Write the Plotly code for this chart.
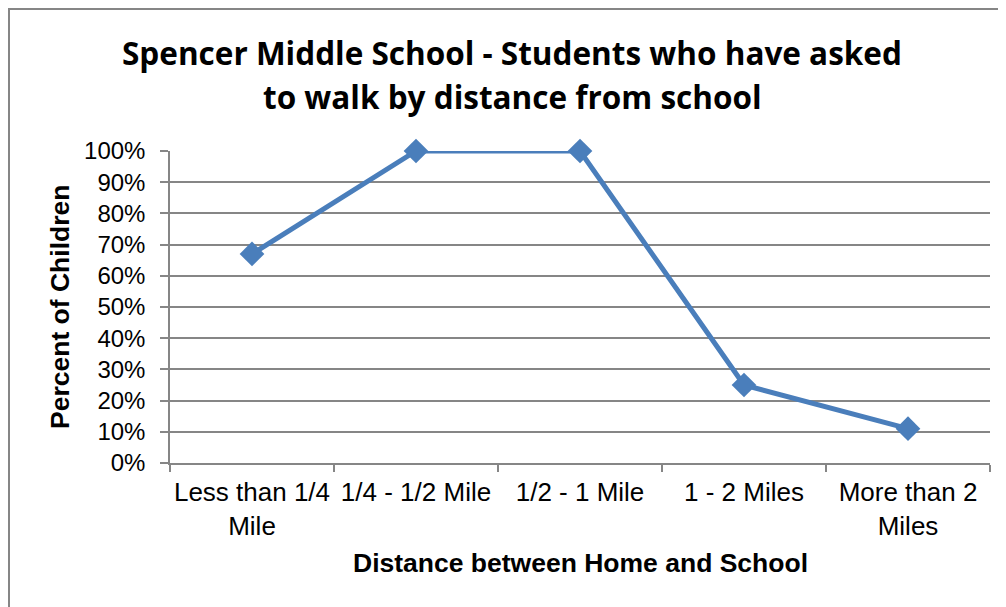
import plotly.graph_objects as go

categories = ["Less than 1/4<br>Mile", "1/4 - 1/2 Mile", "1/2 - 1 Mile", "1 - 2 Miles", "More than 2<br>Miles"]
percent_children = [0.67, 1.00, 1.00, 0.25, 0.11]
y_ticks = [i / 10 for i in range(11)]
title_lines = ["Spencer Middle School - Students who have asked", "to walk by distance from school"]
x_title = "Distance between Home and School"
y_title = "Percent of Children"

OFF = 8  # page body margin
W, H = 1006 - OFF, 607 - OFF
# target pixel positions in the screenshot
L, R, T, B = 170, 990, 151, 463

fig = go.Figure()
fig.add_trace(go.Scatter(
    x=categories, y=percent_children, mode="lines+markers",
    line=dict(color="#4A7EBB", width=5),
    marker=dict(symbol="diamond", size=19, color="#4A7EBB"),
    showlegend=False, cliponaxis=False,
))

def px_x(x):
    return (x - L) / (R - L)

def px_y(y):
    return (B - y) / (B - T)

annos = [
    dict(text="<b>" + title_lines[0] + "</b>", x=px_x(512), y=px_y(52)),
    dict(text="<b>" + title_lines[1] + "</b>", x=px_x(512), y=px_y(97)),
]
annotations = [dict(a, xref="paper", yref="paper", xanchor="center", yanchor="middle",
                    showarrow=False, font=dict(family="Open Sans", size=31.5, color="black"))
               for a in annos]
annotations.append(dict(text="<b>" + x_title + "</b>", x=px_x(580), y=px_y(563),
                        xref="paper", yref="paper", xanchor="center", yanchor="middle",
                        showarrow=False, font=dict(family="Liberation Sans, Arial", size=26.5, color="black")))
annotations.append(dict(text="<b>" + y_title + "</b>", x=px_x(60), y=px_y(307), textangle=-90,
                        xref="paper", yref="paper", xanchor="center", yanchor="middle",
                        showarrow=False, font=dict(family="Liberation Sans, Arial", size=26.5, color="black")))

fig.update_layout(
    width=W, height=H,
    margin=dict(l=L - OFF, r=1006 - R, t=T - OFF, b=607 - B),
    paper_bgcolor="white", plot_bgcolor="white",
    font=dict(family="Liberation Sans, Arial", color="black"),
    xaxis=dict(
        type="category", range=[-0.5, 4.5],
        showgrid=False, showline=True, linecolor="#868686", linewidth=1.5,
        ticks="outside", tickson="boundaries", ticklen=7, tickcolor="#868686", tickwidth=1.5,
        tickfont=dict(size=26, family="Liberation Sans, Arial"), tickangle=0,
        ticklabelstandoff=5,
    ),
    yaxis=dict(
        range=[0, 1], tickvals=y_ticks, tickformat=".0%",
        showgrid=True, gridcolor="#868686", gridwidth=1.5,
        showline=True, linecolor="#868686", linewidth=1.5,
        ticks="outside", ticklen=8, tickcolor="#868686", tickwidth=1.5,
        tickfont=dict(size=24, family="Liberation Sans, Arial"),
        ticklabelstandoff=10, zeroline=False,
    ),
    annotations=annotations,
    shapes=[dict(type="rect", xref="paper", yref="paper",
                 x0=px_x(9), x1=px_x(1200), y0=px_y(800), y1=px_y(9),
                 line=dict(color="#868686", width=2), fillcolor="rgba(0,0,0,0)", layer="below")],
)

fig.write_html("out.html")
